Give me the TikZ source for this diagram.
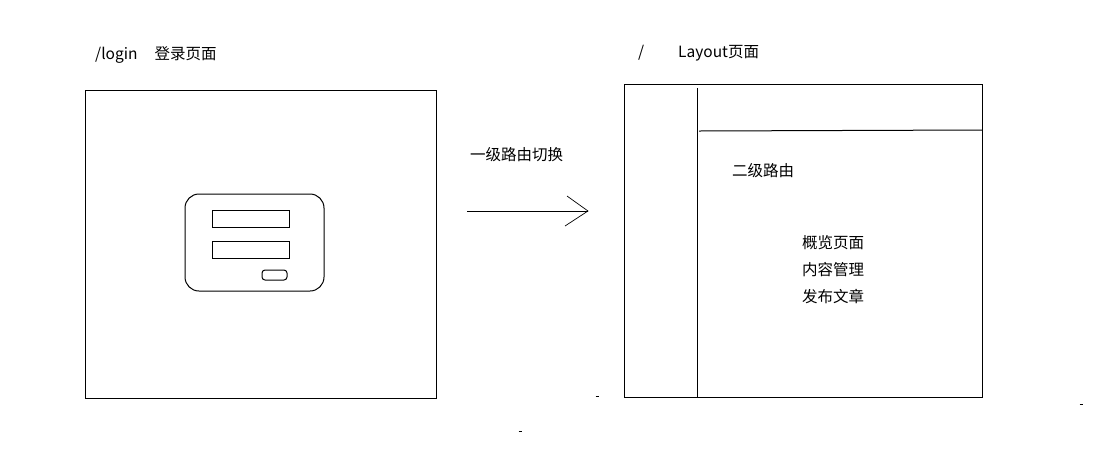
\documentclass[tikz,border=0pt]{standalone}
\usepackage{fontspec}
\setmainfont{Noto Sans CJK SC}
\begin{document}
\begin{tikzpicture}[x=1pt,y=-1pt,
  ln/.style={draw=black,line width=1pt},
  lbl/.style={anchor=west,inner sep=0pt,font=\fontsize{15.5}{18}\selectfont},
  dot/.style={draw=black,line width=0.9pt}]
\useasboundingbox[fill=white] (0,0) rectangle (1101,475);
% left page
\node[lbl] (t1) at (95,55) {/login\hspace{17pt}登录页面};
\draw[ln] (85,90) rectangle (436,398);
\draw[ln,rounded corners=14pt] (185,194) rectangle (324,291);
\draw[ln] (212,210) rectangle (289,227);
\draw[ln] (212,241) rectangle (289,258);
\draw[ln,rounded corners=3pt] (262,270) rectangle (287,280);
% arrow
\node[lbl] (t2) at (470,155) {一级路由切换};
\coordinate (a0) at (467,211);
\coordinate (a1) at (588,211);
\coordinate (h1) at (567,196);
\coordinate (h2) at (565,226);
\draw[ln,line width=0.9pt] (a0) -- (a1);
\draw[line width=0.7pt] (h1) -- (a1) -- (h2);
% right page
\node[lbl] (t3) at (638,53) {/};
\node[lbl] (t4) at (678,53) {Layout页面};
\draw[ln] (624,84) rectangle (982,397);
\coordinate (v0) at (697,88);
\coordinate (v1) at (697,397);
\draw[ln] (v0) -- (v1);
\coordinate (s0) at (699,131);
\coordinate (s1) at (982,130);
\draw[ln] (s0) -- (s1);
\node[lbl] (t5) at (732,171) {二级路由};
\node[lbl] (l1) at (802,243) {概览页面};
\node[lbl] (l2) at (802,270) {内容管理};
\node[lbl] (l3) at (802,297) {发布文章};
% stray marks
\draw[dot] (595.5,396) -- (598.5,396);
\draw[dot] (518.5,431) -- (521.5,431);
\draw[dot] (1079.5,404) -- (1082.5,404);
\end{tikzpicture}
\end{document}
